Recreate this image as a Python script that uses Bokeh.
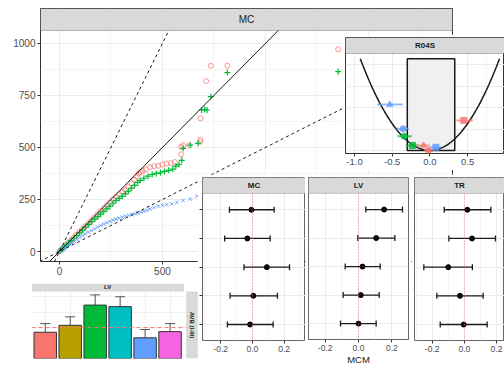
import numpy as np
from bokeh.plotting import figure
from bokeh.models import (Range1d, FixedTicker, Slope, BoxAnnotation, Label, Span,
                          Whisker, ColumnDataSource, TeeHead, PrintfTickFormatter, Column)
from bokeh.embed import file_html
from bokeh.resources import INLINE

FONT = "Liberation Sans"
RED, GREEN, BLUE = "#F8766D", "#00BA38", "#619CFF"
GRID_MAJOR, GRID_MINOR = "#EBEBEB", "#F4F4F4"
STRIP_FILL, STRIP_LINE = "#D9D9D9", "#333333"
TICK_TEXT = "#4D4D4D"

# ---------------- main QQ panel (MC) ----------------
red_x = [3, 10, 18, 27, 37, 48, 60, 72, 85, 98, 110, 125, 140, 155, 170, 185, 200, 215, 230, 245,
         260, 275, 290, 305, 320, 335, 350, 362, 375, 385, 395, 405, 420, 440, 460, 480, 500, 520, 540, 560,
         591, 591, 600, 630, 683, 685, 685, 712, 735, 815, 1353]
red_y = [3, 10, 17, 26, 36, 46, 58, 70, 82, 95, 106, 121, 135, 150, 164, 179, 194, 208, 222, 236,
         250, 262, 275, 285, 295, 310, 328, 345, 362, 375, 382, 388, 395, 405, 410, 412, 418, 422, 425, 430,
         467, 503, 510, 511, 527, 538, 640, 819, 893, 893, 972]
green_x = [2, 8, 15, 24, 34, 45, 57, 70, 84, 98, 112, 127, 142, 157, 172, 187, 200, 215, 230, 245,
           260, 275, 290, 305, 320, 335, 350, 365, 380, 392, 410, 430, 450, 470, 490, 510, 530, 550, 565, 580,
           594, 601, 634, 673, 690, 705, 716, 735, 815, 1353]
green_y = [2, 8, 14, 22, 31, 41, 52, 64, 77, 90, 103, 117, 130, 144, 156, 168, 180, 192, 205, 218,
           232, 245, 255, 265, 277, 290, 305, 318, 332, 342, 352, 362, 370, 375, 378, 385, 390, 396, 410, 418,
           438, 496, 511, 520, 680, 682, 680, 744, 860, 864]
blue_x = [2, 8, 15, 22, 30, 40, 50, 60, 72, 85, 98, 112, 125, 140, 155, 170, 185, 200, 215, 230,
          245, 260, 275, 290, 305, 320, 335, 350, 365, 380, 395, 410, 425, 440, 460, 480, 500, 520, 545, 570,
          600, 635, 668]
blue_y = [1, 5, 10, 15, 20, 27, 34, 41, 49, 58, 67, 76, 84, 93, 101, 109, 117, 125, 132, 139,
          145, 151, 156, 160, 165, 169, 173, 177, 181, 185, 189, 194, 198, 204, 212, 218, 222, 225, 229, 236,
          245, 252, 266]
ref_slopes = [2.0, 1.0, 0.5]
main_xticks = [0, 500]
main_xgrid = [0, 500, 1000, 1500]
main_yticks = [0, 250, 500, 750, 1000]

# ---------------- R04S inset ----------------
r04_x = [-0.533, 0.45, -0.356, -0.343, -0.23, -0.084, 0.08, -0.02]
r04_y = [0.428, 0.28, 0.202, 0.133, 0.047, 0.047, 0.03, 0.0]
r04_lo = [-0.70, 0.35, -0.44, -0.43, -0.32, -0.18, 0.0, -0.08]
r04_hi = [-0.36, 0.57, -0.28, -0.24, -0.15, 0.0, 0.15, 0.04]
r04_col = [BLUE, RED, BLUE, GREEN, GREEN, RED, BLUE, RED]
r04_mark = ["triangle", "square", "circle", "circle", "square", "triangle", "square", "circle"]
r04_box = dict(left=-0.30, right=0.33, bottom=0.0, top=0.854)
r04_curve_half = 0.924
r04_xticks = [-1.0, -0.5, 0.0, 0.5]

# ---------------- forest panels ----------------
forest_rows = [5, 4, 3, 2, 1]
forest = {
    "MC": dict(est=[-0.006, -0.032, 0.091, 0.006, -0.015],
               lo=[-0.145, -0.175, -0.053, -0.141, -0.158],
               hi=[0.137, 0.112, 0.234, 0.158, 0.131]),
    "LV": dict(est=[0.154, 0.106, 0.024, 0.014, 0.0],
               lo=[0.044, -0.004, -0.08, -0.092, -0.108],
               hi=[0.264, 0.218, 0.13, 0.124, 0.106]),
    "TR": dict(est=[0.019, 0.048, -0.1, -0.027, -0.004],
               lo=[-0.125, -0.096, -0.252, -0.171, -0.15],
               hi=[0.165, 0.194, 0.05, 0.117, 0.142]),
}
forest_xticks = [-0.2, 0.0, 0.2]

# ---------------- bar inset ----------------
bar_pos = [1, 2, 3, 4, 5, 6]
bar_vals = [0.85, 1.075, 1.73, 1.68, 0.67, 0.87]
bar_lo = [0.54, 0.77, 1.42, 1.35, 0.41, 0.61]
bar_hi = [1.13, 1.35, 2.06, 2.00, 0.94, 1.13]
bar_ref = 1.0
bar_colors = ["#F8766D", "#B79F00", "#00BA38", "#00BFC4", "#619CFF", "#F564E3"]


def place(p, left, top):
    p.styles = {"position": "absolute", "left": f"{left}px", "top": f"{top}px"}


def style_axes(p, size):
    for ax in p.axis:
        ax.axis_line_color = None
        ax.major_tick_line_color = "#333333"
        ax.major_tick_out = 3
        ax.major_tick_in = 0
        ax.minor_tick_line_color = None
        ax.major_label_text_font = FONT
        ax.major_label_text_font_size = size
        ax.major_label_text_color = TICK_TEXT
        ax.major_label_standoff = 2


def make_fig(w, h, xr, yr, ml, mr, mt, mb, xloc="below", yloc="left"):
    p = figure(width=w, height=h, x_range=Range1d(*xr), y_range=Range1d(*yr),
               output_backend="svg", toolbar_location=None, tools="",
               x_axis_location=xloc, y_axis_location=yloc, frame_align=False,
               min_border_left=ml, min_border_right=mr, min_border_top=mt, min_border_bottom=mb,
               background_fill_color="white", border_fill_color="white")
    p.outline_line_color = "#333333"
    p.xgrid.grid_line_color = GRID_MAJOR
    p.ygrid.grid_line_color = GRID_MAJOR
    p.xgrid.minor_grid_line_color = GRID_MINOR
    p.ygrid.minor_grid_line_color = GRID_MINOR
    return p


def strip(p, left, right, bottom, top, text, size, bold=False, line="#333333", angle=0):
    p.add_layout(BoxAnnotation(left=left, right=right, bottom=bottom, top=top,
                               fill_color=STRIP_FILL, fill_alpha=1.0,
                               line_color=line, line_width=1 if line else 0))
    p.add_layout(Label(x=(left + right) / 2, y=(bottom + top) / 2, text=text,
                       text_align="center", text_baseline="middle", angle=angle, angle_units="deg",
                       text_font=FONT, text_font_size=size, text_color="#1A1A1A",
                       text_font_style="bold" if bold else "normal"))


# ======== main figure ========
mx0, mx1, my0, my1, mstrip = -92, 1908, -48, 1062, 1167.7
main = make_fig(445, 275, (mx0, mx1), (my0, mstrip), 32, 1, 0, 22)
main.xaxis.ticker = FixedTicker(ticks=main_xticks)
main.xgrid.ticker = FixedTicker(ticks=main_xgrid, minor_ticks=[250, 750, 1250, 1750])
main.yaxis.ticker = FixedTicker(ticks=main_yticks)
main.ygrid.ticker = FixedTicker(ticks=main_yticks, minor_ticks=[125, 375, 625, 875])
style_axes(main, "10px")
main.scatter(red_x, red_y, marker="circle", size=5, fill_color=None, line_color=RED, line_alpha=0.75)
main.scatter(green_x, green_y, marker="cross", size=6, line_color=GREEN, line_width=1.2)
main.scatter(blue_x, blue_y, marker="x", size=5, line_color=BLUE, line_alpha=0.9)
for g in ref_slopes:
    main.add_layout(Slope(gradient=g, y_intercept=0, line_color="#1A1A1A", line_width=1,
                          line_dash="solid" if g == 1.0 else "3 3"))
strip(main, mx0, mx1, my1, mstrip, "MC", "10px")
place(main, 8, 8)

# ======== bar inset ========
bx0, bx1, bxs0, bxs1 = 0.45, 6.55, 6.646, 7.139
by0, by1, bys = 0.0, 2.17, 2.429
bars = make_fig(169, 79, (bx0, bxs1), (by0, bys), 2, 0, 2, 2, xloc=None, yloc=None)
bars.outline_line_color = None
bars.xgrid.ticker = FixedTicker(ticks=bar_pos)
bars.ygrid.ticker = FixedTicker(ticks=[0.5, 1.0, 1.5, 2.0])
bars.xgrid.grid_line_color = "#F0F0F0"
bars.ygrid.grid_line_color = "#F0F0F0"
bsrc = ColumnDataSource(dict(x=bar_pos, top=bar_vals, lo=bar_lo, hi=bar_hi, c=bar_colors))
bars.vbar(x="x", top="top", width=0.9, bottom=0, fill_color="c", line_color="#333333",
          line_width=1, source=bsrc)
bars.add_layout(Whisker(source=bsrc, base="x", lower="lo", upper="hi", dimension="height",
                        line_color="#555555", line_width=1,
                        upper_head=TeeHead(size=10, line_color="#555555", line_width=1),
                        lower_head=TeeHead(size=10, line_color="#555555", line_width=1)))
bars.add_layout(Span(location=bar_ref, dimension="width", line_color=RED, line_dash="4 3", line_width=1))
strip(bars, bx0, bx1, by1, bys, "LV", "6px", bold=True, line=None)
strip(bars, bxs0, bxs1, by0, by1, "AVB (I-III)", "6px", bold=True, line=None, angle=-90)
place(bars, 29, 281)

# ======== R04S inset ========
rx0, rx1, ry0, ry1, rys = -1.12, 0.99, -0.028, 0.903, 1.052
r04 = make_fig(162, 136, (rx0, rx1), (ry0, rys), 3, 0, 3, 17, yloc=None)
r04.xaxis.ticker = FixedTicker(ticks=r04_xticks)
r04.xaxis.formatter = PrintfTickFormatter(format="%.1f")
r04.xgrid.ticker = FixedTicker(ticks=[-1.0, -0.5, 0.0, 0.5], minor_ticks=[-0.75, -0.25, 0.25, 0.75])
r04.ygrid.ticker = FixedTicker(ticks=[0.0, 0.2, 0.4, 0.6, 0.8])
style_axes(r04, "9.5px")
r04.quad(fill_color="#F0F0F0", line_color="#1A1A1A", line_width=1.5, **r04_box)
cx = np.linspace(-r04_curve_half, r04_curve_half, 81)
r04.line(cx, cx ** 2, line_color="#1A1A1A", line_width=1.5)
r04.segment(x0=r04_lo, y0=r04_y, x1=r04_hi, y1=r04_y, line_color=r04_col, line_width=2, line_alpha=0.7)
r04.scatter(r04_x, r04_y, marker=r04_mark, size=6, fill_color=r04_col, line_color=r04_col, alpha=0.8)
strip(r04, rx0, rx1, ry1, rys, "R04S", "8px", bold=True)
place(r04, 342, 34)

# ======== forest panels ========
fy0, fy1, fys = 0.443, 5.568, 6.125
specs = [("MC", 197, 108, (-0.315, 0.335), 5, 0),
         ("LV", 305, 106, (-0.30, 0.30), 3, 3),
         ("TR", 411, 93, (-0.31, 0.25), 3, 0)]
forest_figs = []
for name, left, w, xr, ml, mr in specs:
    f = make_fig(w, 193, xr, (fy0, fys), ml, mr, 3, 27, yloc="left" if name == "MC" else None)
    f.outline_line_color = "#666666"
    f.xaxis.ticker = FixedTicker(ticks=forest_xticks)
    f.xaxis.formatter = PrintfTickFormatter(format="%.1f")
    f.xgrid.ticker = FixedTicker(ticks=forest_xticks, minor_ticks=[-0.3, -0.1, 0.1, 0.3])
    f.ygrid.ticker = FixedTicker(ticks=forest_rows)
    style_axes(f, "8.5px")
    if name == "MC":
        f.yaxis.ticker = FixedTicker(ticks=forest_rows)
        f.yaxis.major_label_overrides = {r: "" for r in forest_rows}
        f.yaxis.major_label_standoff = 0
        f.yaxis.major_label_text_font_size = "0px"
    d = forest[name]
    src = ColumnDataSource(dict(y=forest_rows, est=d["est"], lo=d["lo"], hi=d["hi"]))
    f.add_layout(Span(location=0, dimension="height", line_color=RED, line_dash="1 2",
                      line_width=1, line_alpha=0.9))
    f.add_layout(Whisker(source=src, base="y", lower="lo", upper="hi", dimension="width",
                         line_color="#1A1A1A", line_width=1.3, level="glyph",
                         upper_head=TeeHead(size=6, line_color="#1A1A1A", line_width=1.3),
                         lower_head=TeeHead(size=6, line_color="#1A1A1A", line_width=1.3)))
    f.scatter(x="est", y="y", marker="circle", size=5, fill_color="black", line_color="black", source=src)
    strip(f, xr[0], xr[1], fy1, fys, name, "8px", bold=True, line="#666666")
    if name == "LV":
        f.xaxis.axis_label = "MCM"
        f.xaxis.axis_label_text_font = FONT
        f.xaxis.axis_label_text_font_size = "9.5px"
        f.xaxis.axis_label_text_font_style = "normal"
        f.xaxis.axis_label_text_color = "#1A1A1A"
        f.xaxis.axis_label_standoff = 0
        f.add_layout(Label(x=0.075, y=-0.40, text="R", text_font=FONT, text_font_size="7px",
                           text_color="#1A1A1A", text_baseline="middle", text_align="left"))
    place(f, left, 174)
    forest_figs.append(f)

root = Column(children=[main, bars, r04] + forest_figs, width=496, height=359, sizing_mode="fixed")

open("out.html", "w").write(file_html(root, INLINE))
